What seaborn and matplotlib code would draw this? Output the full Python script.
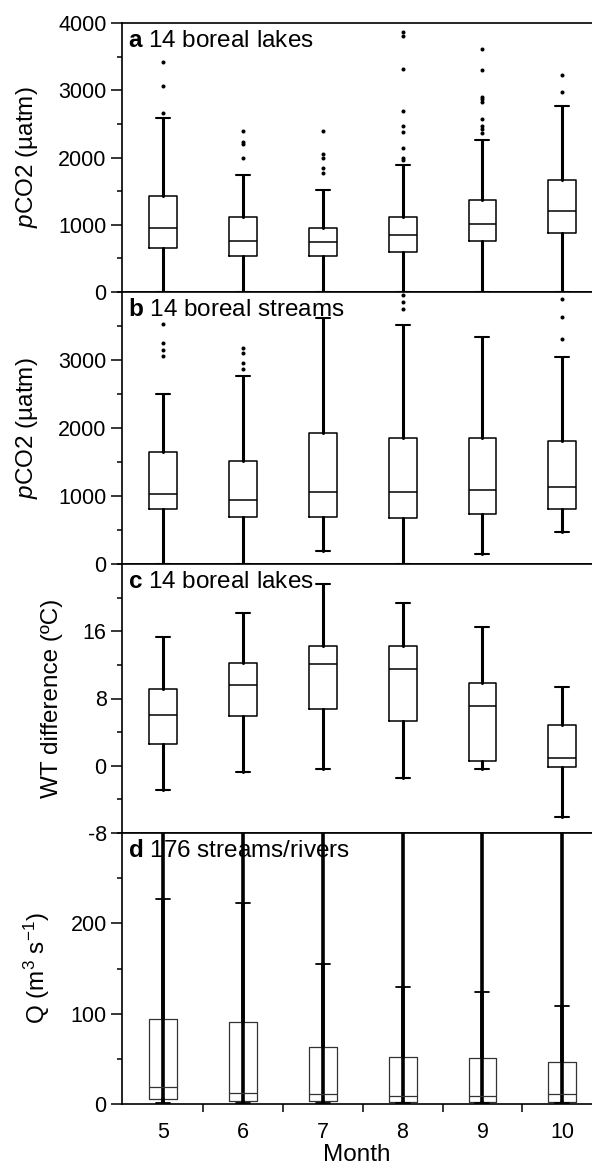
import numpy as np
import pandas as pd
import seaborn as sns
import matplotlib.pyplot as plt
from matplotlib.ticker import FixedLocator

sns.set_style('ticks')
plt.rcParams['font.family'] = ['Liberation Sans', 'DejaVu Sans']
plt.rcParams['mathtext.fontset'] = 'custom'
plt.rcParams['mathtext.rm'] = 'Liberation Sans'
plt.rcParams['mathtext.it'] = 'Liberation Sans:italic'
plt.rcParams['mathtext.bf'] = 'Liberation Sans:bold'
plt.rcParams['axes.unicode_minus'] = False
plt.rcParams['text.color'] = 'k'
plt.rcParams['axes.labelcolor'] = 'k'
plt.rcParams['xtick.color'] = 'k'
plt.rcParams['ytick.color'] = 'k'

months = ['5', '6', '7', '8', '9', '10']

# a: pCO2 lakes
a_lo = [0, 0, 0, 0, 0, 0]
a_q1 = [654, 535, 535, 595, 758, 877]
a_med = [952, 758, 743, 848, 1011, 1204]
a_q3 = [1428, 1115, 952, 1115, 1368, 1665]
a_hi = [2587, 1740, 1517, 1888, 2260, 2766]
a_fliers = [[2660, 3063, 3420],
            [2000, 2200, 2230, 2400],
            [1770, 1850, 1990, 2050, 2400],
            [1960, 2000, 2140, 2380, 2470, 2690, 3316, 3807, 3866],
            [2365, 2420, 2470, 2570, 2825, 2870, 2900, 3300, 3613],
            [2975, 3227]]

# b: pCO2 streams
b_lo = [0, 0, 192, 0, 148, 473]
b_q1 = [812, 694, 694, 680, 739, 812]
b_med = [1034, 945, 1063, 1063, 1093, 1137]
b_q3 = [1654, 1521, 1920, 1846, 1846, 1802]
b_hi = [2496, 2762, 3620, 3515, 3338, 3043]
b_fliers = [[3058, 3150, 3250, 3530],
            [2870, 2950, 3100, 3180],
            [],
            [3750, 3850, 3950],
            [],
            [3309, 3634, 3900]]

# c: water temperature difference
c_lo = [-2.85, -0.8, -0.35, -1.4, -0.35, -6.1]
c_q1 = [2.6, 5.95, 6.8, 5.35, 0.6, -0.1]
c_med = [6.06, 9.6, 12.1, 11.5, 7.1, 0.95]
c_q3 = [9.15, 12.25, 14.3, 14.3, 9.9, 4.9]
c_hi = [15.3, 18.2, 21.6, 19.4, 16.5, 9.4]

# d: discharge
d_lo = [1, 1, 1, 1, 1, 1]
d_q1 = [5, 3, 3, 2, 2, 2]
d_med = [19, 12.5, 11, 9, 9, 11]
d_q3 = [94, 91, 63, 52, 51, 46]
d_hi = [227, 222, 155, 129, 124, 109]
d_max = [420, 410, 390, 380, 400, 380]


def box_stats(lo, q1, med, q3, hi):
    return [dict(whislo=l, q1=a, med=m, q3=b, whishi=h)
            for l, a, m, b, h in zip(lo, q1, med, q3, hi)]


def draw_boxes(ax, stats, thin=False):
    pos = np.arange(len(months))
    if thin:
        bp = dict(color='#333333', linewidth=0.9)
        wp = dict(color='k', linewidth=2.6)
        cp = dict(color='k', linewidth=1.3)
        mp = dict(color='#333333', linewidth=0.9)
    else:
        bp = dict(color='k', linewidth=1.1)
        wp = dict(color='k', linewidth=2.2)
        cp = dict(color='k', linewidth=1.5)
        mp = dict(color='k', linewidth=1.1)
    ax.bxp(stats, positions=pos, widths=0.35, showfliers=False,
           boxprops=bp, whiskerprops=wp, capprops=cp, medianprops=mp,
           manage_ticks=False)


def draw_fliers(ax, fliers):
    rows = [(m, v) for m, vals in zip(months, fliers) for v in vals]
    df = pd.DataFrame(rows, columns=['month', 'value'])
    sns.stripplot(data=df, x='month', y='value', order=months, jitter=False,
                  color='k', size=2.9, linewidth=0, ax=ax)


fig = plt.figure(figsize=(5.92, 11.7), dpi=100)
tops = [23, 292, 564, 833]
bots = [292, 564, 833, 1104]
axes = [fig.add_axes([122 / 592, 1 - b / 1170, 470 / 592, (b - t) / 1170])
        for t, b in zip(tops, bots)]
ax_a, ax_b, ax_c, ax_d = axes

draw_boxes(ax_a, box_stats(a_lo, a_q1, a_med, a_q3, a_hi))
draw_fliers(ax_a, a_fliers)
draw_boxes(ax_b, box_stats(b_lo, b_q1, b_med, b_q3, b_hi))
draw_fliers(ax_b, b_fliers)
draw_boxes(ax_c, box_stats(c_lo, c_q1, c_med, c_q3, c_hi))
ax_d.vlines(np.arange(len(months)), d_lo, d_max, color='k', linewidth=2.6)
draw_boxes(ax_d, box_stats(d_lo, d_q1, d_med, d_q3, d_hi), thin=True)

settings = [
    (ax_a, (0, 4000), [0, 1000, 2000, 3000, 4000], 500, r'$\it{p}$CO2 (µatm)', -0.174, r'$\bf{a}$ 14 boreal lakes'),
    (ax_b, (0, 4000), [0, 1000, 2000, 3000], 500, r'$\it{p}$CO2 (µatm)', -0.174, r'$\bf{b}$ 14 boreal streams'),
    (ax_c, (-8, 24), [-8, 0, 8, 16], 4, 'WT difference (ºC)', -0.126, r'$\bf{c}$ 14 boreal lakes'),
    (ax_d, (0, 300), [0, 100, 200], 50, r'Q (m$^{3}$ s$^{-1}$)', -0.149, r'$\bf{d}$ 176 streams/rivers'),
]

for ax, ylim, yt, minor, ylab, labx, title in settings:
    ax.set_xlim(-0.51, 5.37)
    ax.set_ylim(*ylim)
    ax.set_yticks(yt)
    ax.set_yticklabels([str(v) for v in yt])
    ax.yaxis.set_minor_locator(FixedLocator(np.arange(ylim[0], ylim[1] + minor / 2, minor)))
    ax.tick_params(axis='y', which='major', direction='out', length=8, width=1.1,
                   labelsize=15.5, pad=3)
    ax.tick_params(axis='y', which='minor', direction='out', length=3.8, width=1.1)
    ax.set_ylabel(ylab, fontsize=17.5)
    ax.yaxis.set_label_coords(labx, 0.5)
    ax.set_xlabel('')
    for side in ['left', 'top', 'bottom']:
        ax.spines[side].set_linewidth(1.2)
        ax.spines[side].set_color('k')
    ax.spines['right'].set_visible(False)
    ax.text(0.013, 0.975, title, transform=ax.transAxes, ha='left', va='top',
            fontsize=17.5)
    ax.set_facecolor('white')

for ax in [ax_a, ax_b, ax_c]:
    ax.set_xticks([])
    ax.tick_params(axis='x', which='both', bottom=False, labelbottom=False)

ax_d.set_xticks(np.arange(len(months)))
ax_d.set_xticklabels(months)
ax_d.xaxis.set_minor_locator(FixedLocator([0.5, 1.5, 2.5, 3.5, 4.5]))
ax_d.tick_params(axis='x', which='major', length=0, labelsize=15.5, pad=13)
ax_d.tick_params(axis='x', which='minor', direction='out', length=6, width=1.1)
ax_d.set_xlabel('Month', fontsize=17.5, labelpad=1)

fig.savefig('out.png', dpi=100, facecolor='white')
